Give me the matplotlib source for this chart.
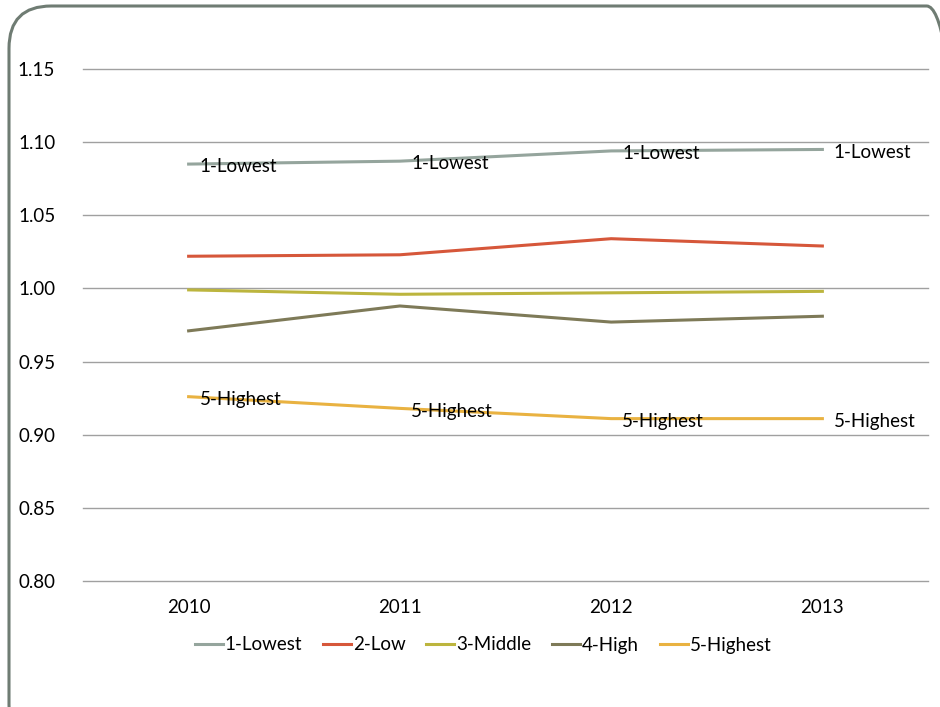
import numpy as np
import matplotlib
matplotlib.use("Agg")
import matplotlib.pyplot as plt
from matplotlib.patches import FancyBboxPatch

plt.rcParams['font.family'] = ['Lato', 'DejaVu Sans']

years = ["2010", "2011", "2012", "2013"]
series_names = ["1-Lowest", "2-Low", "3-Middle", "4-High", "5-Highest"]
lowest = [1.085, 1.087, 1.094, 1.095]
low = [1.022, 1.023, 1.034, 1.029]
middle = [0.999, 0.996, 0.997, 0.998]
high = [0.971, 0.988, 0.977, 0.981]
highest = [0.926, 0.918, 0.911, 0.911]
colors = ["#95A59D", "#D6573A", "#BCB53E", "#7E7A58", "#E9B241"]

fig = plt.figure(figsize=(9.4, 7.07), dpi=100)
ax = fig.add_axes([83 / 940, 1 - 581 / 707, 845 / 940, 512 / 707])

x = np.arange(len(years))
all_series = [lowest, low, middle, high, highest]
for name, vals, c in zip(series_names, all_series, colors):
    ax.plot(x, vals, color=c, lw=2.2, label=name, zorder=3)

# data labels for the extreme groups
for vals, name in [(lowest, "1-Lowest"), (highest, "5-Highest")]:
    for xi, v in zip(x, vals):
        ax.annotate(name, (xi, v), xytext=(8, -2), textcoords="offset points",
                    ha="left", va="center", fontsize=13.5, color="black", zorder=4)

ax.set_xlim(-0.5, 3.5)
ax.set_ylim(0.80, 1.15)
ax.set_yticks(np.arange(0.80, 1.151, 0.05))
ax.set_yticklabels(["%.2f" % t for t in np.arange(0.80, 1.151, 0.05)])
ax.set_xticks(x)
ax.set_xticklabels(years)
ax.tick_params(axis="both", length=0, labelsize=13.5)
ax.tick_params(axis="y", pad=20)
ax.tick_params(axis="x", pad=13)
ax.grid(axis="y", color="#A0A0A0", lw=1)
for gl in ax.get_ygridlines():
    gl.set_clip_on(False)
ax.set_axisbelow(True)
for s in ax.spines.values():
    s.set_visible(False)

leg = fig.legend(loc="center", bbox_to_anchor=(483 / 940, 1 - 645 / 707), ncol=5,
                 frameon=False, fontsize=13.5, handlelength=1.5, handletextpad=0.1,
                 columnspacing=1.1)

box = FancyBboxPatch((9 / 940, -40 / 707), 960 / 940, 741 / 707,
                     boxstyle="round,pad=0,rounding_size=0.045",
                     transform=fig.transFigure, fill=False, ec="#6F7C73", lw=2.2,
                     clip_on=False, mutation_aspect=940 / 707)
fig.patches.append(box)

fig.savefig("out.png", dpi=100)
